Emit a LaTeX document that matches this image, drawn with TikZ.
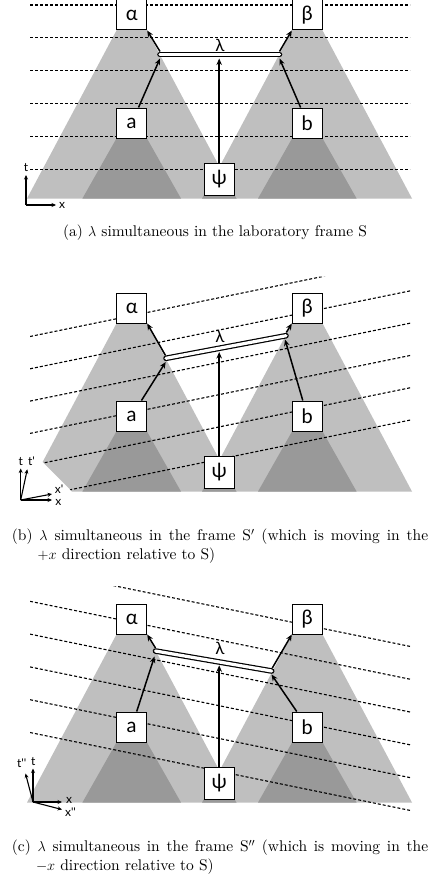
\documentclass[tikz,border=0pt]{standalone}
\usepackage{fontspec}
\newfontfamily\gill{Lato}
\newfontfamily\capfont{lmroman10-regular.otf}
\usetikzlibrary{arrows.meta}
\definecolor{conelight}{gray}{0.75}
\definecolor{conedark}{gray}{0.6}
\tikzset{
  box/.style={draw, line width=1pt, fill=white, minimum width=30pt, minimum height=30pt, inner sep=0pt, font=\gill\fontsize{20}{20}\selectfont},
  psibox/.style={box, minimum height=32pt},
  conn/.style={line width=1.5pt, -{Stealth[length=6.5pt,width=5.5pt]}},
  lambar/.style={draw, double=white, double distance=3.2pt, line width=1.2pt, line cap=round},
  simline/.style={line width=1.1pt, dash pattern=on 3pt off 2pt},
  axisarr/.style={line width=1.1pt, -{Stealth[length=4.5pt,width=4pt]}},
  axlab/.style={font=\gill\fontsize{12}{12}\selectfont, inner sep=0pt},
  lamlab/.style={font=\gill\fontsize{17}{17}\selectfont, inner sep=0pt},
  captext/.style={font=\capfont\fontsize{15.5}{18.3}\selectfont, inner sep=0pt},
}
\newcommand\conesrest{%
  \fill[conelight] (292.3,30) -- (322.3,30) -- (412,198.5) -- (202.6,198.5) -- cycle;
  \fill[conedark] (116.7,138) -- (146.7,138) -- (181,198.5) -- (82.4,198.5) -- cycle;
  \fill[conedark] (292.3,138) -- (322.3,138) -- (356.6,198.5) -- (258,198.5) -- cycle;
  \fill[conedark] (204,195) -- (234.4,195) -- (236.5,198.5) -- (202,198.5) -- cycle;
}
\newcommand\allboxes[1]{%
  \node[box] (al#1) at (131.7,15) {α};
  \node[box] (be#1) at (307.3,15) {β};
  \node[box] (na#1) at (131.7,123) {a};
  \node[box] (nb#1) at (307.3,123) {b};
  \node[psibox] (ps#1) at (219.2,179) {ψ};
}
\begin{document}
\begin{tikzpicture}[x=1pt,y=-1pt]
\useasboundingbox (0,0) rectangle (430,875);
% ---------------- panel (a)
\fill[conelight] (116.7,30) -- (146.7,30) -- (236.4,198.5) -- (27,198.5) -- cycle;
\conesrest
\foreach \k in {0,...,5} \draw[simline] (30,{5+32.9*\k}) -- (410,{5+32.9*\k});
\allboxes{A}
\coordinate (LA) at (160,54.5); \coordinate (RA) at (279.5,54.5);
\draw[lambar] (LA) -- (RA);
\coordinate (aTA) at (160,58.5); \coordinate (bTA) at (279.5,58.5); \coordinate (pTA) at (219.2,58.5);
\coordinate (aSA) at (160,51.5); \coordinate (bSA) at (279.5,51.5);
\draw[conn] (naA) -- (aTA);
\draw[conn] (nbA) -- (bTA);
\draw[conn] (psA) -- (pTA);
\draw[conn] (aSA) -- (alA.south east);
\draw[conn] (bSA) -- (beA.south west);
\node[lamlab] (lamA) at (220,45) {λ};
\coordinate (oA) at (26,205); \coordinate (tA) at (26,175); \coordinate (xA) at (56,205);
\draw[axisarr] (oA) -- (tA); \draw[axisarr] (oA) -- (xA);
\node[axlab] (tlA) at (26,167.5) {t}; \node[axlab] (xlA) at (62,205) {x};
\node[captext] (capA) at (215,233) {(a) $\lambda$ simultaneous in the laboratory frame S};
% ---------------- panel (b)
\fill[conelight] (116.7,323) -- (146.7,323) -- (236.4,491.5) -- (72,491.5) -- (42.6,462) -- cycle;
\begin{scope}[shift={(0,293)}] \conesrest \end{scope}
\begin{scope}
\clip (30,276.5) -- (411,276.5) -- (411,491.5) -- (72,491.5) -- (42.6,462) -- (30,449.4) -- cycle;
\foreach \k in {0,...,5} \draw[simline] (30,{336.5+32.3*\k}) -- (413,{336.5+32.3*\k-0.205*383});
\end{scope}
\begin{scope}[shift={(0,293)}] \allboxes{B} \end{scope}
\coordinate (LB) at (166,358.3); \coordinate (RB) at (286,335.7);
\draw[lambar] (LB) -- (RB);
\coordinate (aTB) at (165.7,362); \coordinate (bTB) at (285,339.5); \coordinate (pTB) at (219.2,352);
\coordinate (aSB) at (165.5,355.5); \coordinate (bSB) at (286.3,332.5);
\draw[conn] (naB) -- (aTB);
\draw[conn] (nbB) -- (bTB);
\draw[conn] (psB) -- (pTB);
\draw[conn] (aSB) -- (alB.south east);
\draw[conn] (bSB) -- (beB.south west);
\node[lamlab] (lamB) at (220,336.5) {λ};
\coordinate (oB) at (20.7,500);
\coordinate (tB) at (20.7,468.5); \coordinate (tpB) at (27.3,469.3);
\coordinate (xB) at (52,500); \coordinate (xpB) at (52,494);
\draw[axisarr] (oB) -- (tB); \draw[axisarr] (oB) -- (tpB);
\draw[axisarr] (oB) -- (xB); \draw[axisarr] (oB) -- (xpB);
\node[axlab] (tlB) at (20.7,461.5) {t};
\node[axlab] (tplB) at (31.5,461.5) {t\textquotesingle};
\node[axlab] (xlB) at (58.3,502) {x};
\node[axlab] (xplB) at (59,489.5) {x\textquotesingle};
\node[captext, anchor=north west, text width=416.3pt, align=justify] (capB) at (11.7,529)
  {\setbox0=\hbox{(b)\ }\hangindent=\wd0\hangafter=1 (b) $\lambda$ simultaneous in the frame S$'$ (which is moving in the\linebreak $+x$ direction relative to S)\par};
% ---------------- panel (c)
\begin{scope}[shift={(0,604)}]
\fill[conelight] (116.7,30) -- (146.7,30) -- (236.4,198.5) -- (27,198.5) -- cycle;
\conesrest
\end{scope}
\begin{scope}
\clip (30,586) -- (411,586) -- (411,816) -- (30,816) -- cycle;
\foreach \k in {0,...,5} \draw[simline] (30,{568.5+32.8*\k}) -- (410,{568.5+32.8*\k+0.205*380});
\end{scope}
\begin{scope}[shift={(0,604)}] \allboxes{C} \end{scope}
\coordinate (LC) at (155.5,651); \coordinate (RC) at (271.7,671);
\draw[lambar] (LC) -- (RC);
\coordinate (aTC) at (154.5,656.5); \coordinate (bTC) at (271.5,674.5); \coordinate (pTC) at (219.2,665.3);
\coordinate (aSC) at (155.5,648); \coordinate (bSC) at (272.3,668);
\draw[conn] (naC) -- (aTC);
\draw[conn] (nbC) -- (bTC);
\draw[conn] (psC) -- (pTC);
\draw[conn] (aSC) -- (alC.south east);
\draw[conn] (bSC) -- (beC.south west);
\node[lamlab] (lamC) at (220,648) {λ};
\coordinate (oC) at (33,802);
\coordinate (tC) at (33,768.5); \coordinate (tpC) at (25.5,773.5);
\coordinate (xC) at (62,802); \coordinate (xpC) at (62,809.5);
\draw[axisarr] (oC) -- (tC); \draw[axisarr] (oC) -- (tpC);
\draw[axisarr] (oC) -- (xC); \draw[axisarr] (oC) -- (xpC);
\node[axlab] (tlC) at (33.3,761.7) {t};
\node[axlab] (tplC) at (21.7,763.3) {t\textquotesingle\textquotesingle};
\node[axlab] (xlC) at (69,800) {x};
\node[axlab] (xplC) at (70.5,812) {x\textquotesingle\textquotesingle};
\node[captext, anchor=north west, text width=416.3pt, align=justify] (capC) at (11.7,840)
  {\setbox0=\hbox{(c)\ }\hangindent=\wd0\hangafter=1 (c) $\lambda$ simultaneous in the frame S$''$ (which is moving in the\linebreak $-x$ direction relative to S)\par};
\end{tikzpicture}
\end{document}
